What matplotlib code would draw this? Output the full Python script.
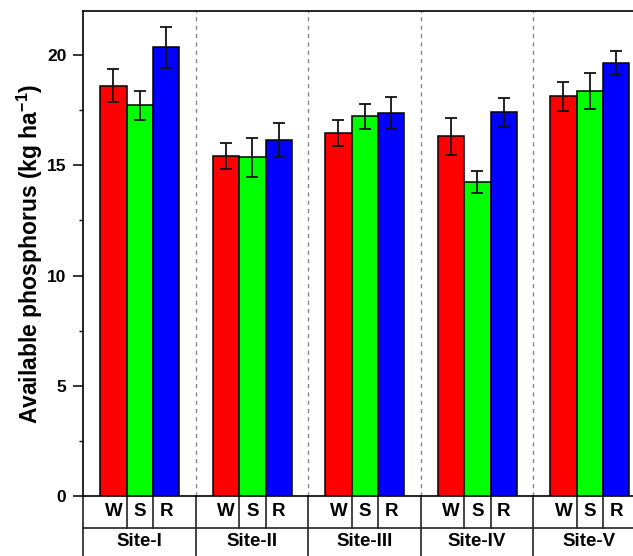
import matplotlib.pyplot as plt
import matplotlib.transforms as mtransforms
import numpy as np

plt.rcParams['font.family'] = ['Liberation Sans', 'DejaVu Sans']
plt.rcParams['font.weight'] = 'bold'
plt.rcParams['mathtext.fontset'] = 'custom'
plt.rcParams['mathtext.rm'] = 'Liberation Sans:bold'
plt.rcParams['mathtext.bf'] = 'Liberation Sans:bold'
plt.rcParams['mathtext.default'] = 'bf'

sites = ['Site-I', 'Site-II', 'Site-III', 'Site-IV', 'Site-V']
seasons = ['W', 'S', 'R']
colors = ['#ff0000', '#00ff00', '#0000ff']

# mean values per season, one entry per site
w_vals = [18.62, 15.42, 16.45, 16.31, 18.13]
s_vals = [17.72, 15.36, 17.23, 14.24, 18.38]
r_vals = [20.35, 16.15, 17.36, 17.41, 19.64]

w_err = [0.75, 0.60, 0.59, 0.83, 0.65]
s_err = [0.66, 0.89, 0.56, 0.49, 0.82]
r_err = [0.92, 0.75, 0.72, 0.65, 0.54]

values = [w_vals, s_vals, r_vals]
errors = [w_err, s_err, r_err]

fig = plt.figure(figsize=(6.33, 5.56), dpi=100)
ax = fig.add_axes([83 / 633, 60 / 556, 562.5 / 633, 485 / 556])

width = 0.235
offsets = [-width, 0, width]
x = np.arange(len(sites)) + 0.505

for k in range(3):
    ax.bar(x + offsets[k], values[k], width, color=colors[k],
           edgecolor='black', linewidth=1.1, zorder=3)
    ax.errorbar(x + offsets[k], values[k], yerr=errors[k], fmt='none',
                ecolor='#111111', elinewidth=1.3, capsize=4, capthick=1.3,
                zorder=4)

# dashed separators between sites
for i in range(1, len(sites)):
    ax.axvline(i, color='#888888', linestyle=(0, (3, 3)), linewidth=1.0, zorder=1)

ax.set_xlim(0, len(sites))
ax.set_ylim(0, 22)
ax.set_yticks([0, 5, 10, 15, 20])
ax.set_yticks([2.5, 7.5, 12.5, 17.5], minor=True)
ax.tick_params(axis='y', which='major', direction='out', length=7, width=1.1,
               labelsize=12.5, pad=5)
ax.tick_params(axis='y', which='minor', direction='out', length=3, width=1.0)
for lab in ax.get_yticklabels():
    lab.set_fontweight('bold')
ax.set_xticks([])
for sp in ax.spines.values():
    sp.set_linewidth(1.2)

ax.set_ylabel('Available phosphorus (kg ha$^{-1}$)', fontsize=16.5,
              fontweight='bold', labelpad=1)

# table-like category labels under the axis
trans = mtransforms.blended_transform_factory(ax.transData, ax.transAxes)
row1 = -32 / 485
row2 = -70 / 485
lc = '#222222'
ax.plot([0, len(sites)], [row1, row1], color=lc, lw=1.2, transform=trans,
        clip_on=False)
for i in range(len(sites) + 1):
    ax.plot([i, i], [0, row2], color=lc, lw=1.2, transform=trans, clip_on=False)
for i in range(len(sites)):
    for edge in (x[i] - width / 2, x[i] + width / 2):
        ax.plot([edge, edge], [0, row1], color=lc, lw=1.2, transform=trans,
                clip_on=False)
    for k in range(3):
        ax.text(x[i] + offsets[k], -16 / 485, seasons[k], transform=trans,
                ha='center', va='center', fontsize=13.5, fontweight='bold')
    ax.text(i + 0.5, -45 / 485, sites[i], transform=trans, ha='center',
            va='center', fontsize=13.5, fontweight='bold')

fig.savefig('out.png', dpi=100)
